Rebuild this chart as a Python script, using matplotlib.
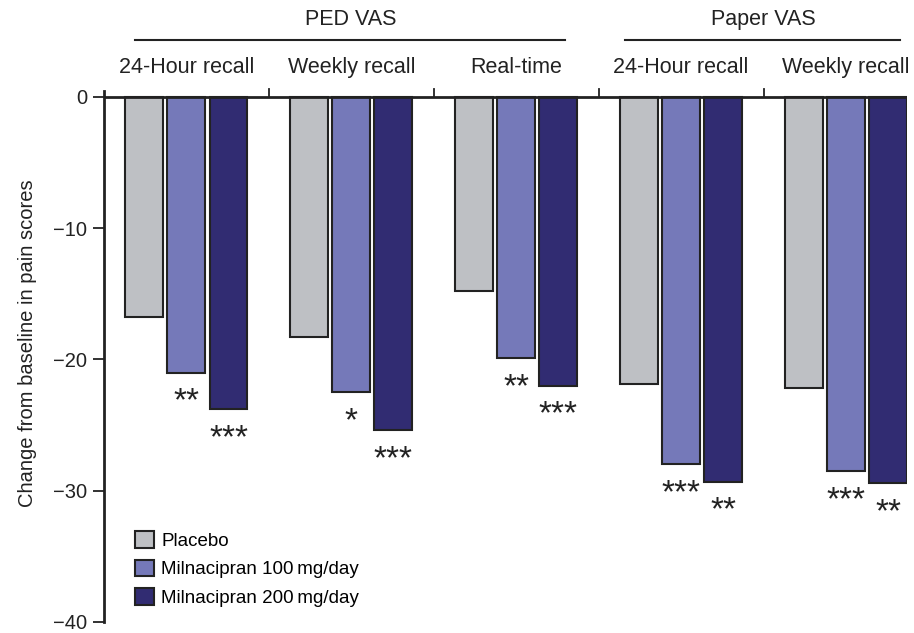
import matplotlib
matplotlib.use('Agg')
import matplotlib.pyplot as plt
import numpy as np

plt.rcParams['font.family'] = ['Liberation Sans', 'DejaVu Sans']

# datos
grupos = ['24-Hour recall', 'Weekly recall', 'Real-time', '24-Hour recall', 'Weekly recall']
placebo = [-16.8, -18.3, -14.8, -21.9, -22.2]
milna100 = [-21.0, -22.5, -19.9, -28.0, -28.5]
milna200 = [-23.8, -25.4, -22.0, -29.3, -29.4]
sig100 = ['**', '*', '**', '***', '***']
sig200 = ['***', '***', '***', '**', '**']
series = ['Placebo', 'Milnacipran 100\u2009mg/day', 'Milnacipran 200\u2009mg/day']
colores = ['#bec0c4', '#7579b9', '#312c72']

fig = plt.figure(figsize=(9.14, 6.33), dpi=100)
ax = fig.add_axes([0.1138, 0.0174, 0.8786, 0.840])

x = np.arange(len(grupos))
ancho = 0.23
sep = 0.255
b1 = ax.bar(x - sep, placebo, ancho, color=colores[0], edgecolor='#222222', linewidth=1.5, label=series[0])
b2 = ax.bar(x, milna100, ancho, color=colores[1], edgecolor='#222222', linewidth=1.5, label=series[1])
b3 = ax.bar(x + sep, milna200, ancho, color=colores[2], edgecolor='#222222', linewidth=1.5, label=series[2])

# asteriscos (baseline corrido para que el glifo quede centrado bajo la barra)
for i in range(len(grupos)):
    ax.text(x[i], milna100[i] - 2.9, sig100[i], ha='center', va='baseline',
            fontsize=24, color='#222222')
    ax.text(x[i] + sep, milna200[i] - 2.9, sig200[i], ha='center', va='baseline',
            fontsize=24, color='#222222')

ax.set_xlim(-0.5, 4.37)
ax.set_ylim(-40, 0.5)

# linea del cero y separadores
ax.axhline(0, color='#222222', lw=2)
for s in [0.5, 1.5, 2.5, 3.5]:
    ax.plot([s, s], [0, 0.6], color='#222222', lw=1.3, clip_on=False)

for sp in ['top', 'right', 'bottom']:
    ax.spines[sp].set_visible(False)
ax.spines['left'].set_linewidth(2)
ax.spines['left'].set_color('#222222')
ax.spines['left'].set_bounds(-40, 0.45)

ax.set_xticks([])
ax.set_yticks([0, -10, -20, -30, -40])
ax.set_yticklabels(['0', '\u221210', '\u221220', '\u221230', '\u221240'])
ax.tick_params(axis='y', length=8, width=1.3, color='#222222', labelsize=14.5, pad=4, labelcolor='#222222')

ax.set_ylabel('Change from baseline in pain scores', fontsize=14.5, color='#222222')
ax.yaxis.set_label_coords(-0.083, 0.525)

# etiquetas de arriba
for i, g in enumerate(grupos):
    ax.text(x[i], 2.2, g, ha='center', va='center', fontsize=15.5, color='#222222', clip_on=False)
ax.text(0.994, 5.87, 'PED VAS', ha='center', va='center', fontsize=15.5, color='#222222', clip_on=False)
ax.text(3.5, 5.87, 'Paper VAS', ha='center', va='center', fontsize=15.5, color='#222222', clip_on=False)
ax.plot([-0.315, 2.297], [4.34, 4.34], color='#222222', lw=1.5, clip_on=False)
ax.plot([2.66, 4.33], [4.34, 4.34], color='#222222', lw=1.5, clip_on=False)

ax.legend(handles=[b1, b2, b3], loc='upper left', bbox_to_anchor=(0.0386, 0.171), frameon=False,
          fontsize=13.5, handlelength=1.0, handleheight=1.0, handletextpad=0.4, labelspacing=0.52,
          borderpad=0, borderaxespad=0)

plt.savefig('out.png', dpi=100)
